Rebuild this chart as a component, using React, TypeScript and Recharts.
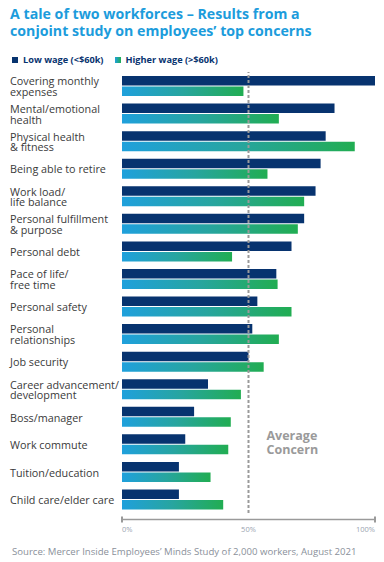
import React from "react";
import { BarChart, Bar, XAxis, YAxis, ReferenceLine } from "recharts";

// Data
const concerns = [
  "Covering monthly\nexpenses",
  "Mental/emotional\nhealth",
  "Physical health\n& fitness",
  "Being able to retire",
  "Work load/\nlife balance",
  "Personal fulfillment\n& purpose",
  "Personal debt",
  "Pace of life/\nfree time",
  "Personal safety",
  "Personal\nrelationships",
  "Job security",
  "Career advancement/\ndevelopment",
  "Boss/manager",
  "Work commute",
  "Tuition/education",
  "Child care/elder care",
];
const lowWage = [100, 84, 80.5, 78.5, 76.5, 72, 67, 61, 53.5, 51.5, 50, 34, 28.5, 25, 22.5, 22.5];
const higherWage = [48, 62, 92, 57.5, 72, 69.5, 43.5, 61.5, 67, 62, 56, 47, 43, 42, 35, 40];
const xTicks = [0, 50, 100];
const averageConcern = 50;

const data = concerns.map((name, i) => ({
  name,
  low: lowWage[i],
  high: higherWage[i],
}));

const FONT = "'Open Sans', 'Noto Sans', sans-serif";
const NAVY = "#07336f";
const BLUE = "#1fa0dc";
const GREEN = "#21ad52";
const GRAY = "#9a9a9a";

const CategoryTick = ({ y, payload }: any) => {
  const lines = String(payload.value).split("\n");
  const lh = 10.8;
  const startY = y - ((lines.length - 1) * lh) / 2;
  return (
    <text x={10} y={startY} fill="#3a3a3a" fontSize={10.8} fontFamily={FONT} dominantBaseline="central">
      {lines.map((l, i) => (
        <tspan key={i} x={10} y={startY + i * lh}>
          {l}
        </tspan>
      ))}
    </text>
  );
};

const PercentTick = ({ x, y, payload, index }: any) => {
  const anchor = index === 0 ? "start" : index === xTicks.length - 1 ? "end" : "middle";
  const isEnd = index === 0 || index === xTicks.length - 1;
  return (
    <g>
      {isEnd && <line x1={x} x2={x} y1={y + 3.5} y2={y + 9.5} stroke={GRAY} strokeWidth={2} />}
      <text x={x} y={y + 19} textAnchor={anchor} fill="#9aa4b0" fontSize={7.5} fontFamily={FONT}>
        {payload.value}%
      </text>
    </g>
  );
};

const AverageLabel = ({ viewBox }: any) => {
  const x = viewBox.x + 18;
  const y = viewBox.y + 368;
  return (
    <text x={x} y={y} fill={GRAY} fontSize={12.5} fontWeight={700} fontFamily={FONT}>
      <tspan x={x} y={y}>Average</tspan>
      <tspan x={x} y={y + 14}>Concern</tspan>
    </text>
  );
};

const LegendItem = ({ swatch, label }: { swatch: string; label: string }) => (
  <div style={{ display: "flex", alignItems: "center", marginRight: 11 }}>
    <div style={{ width: 6, height: 6, background: swatch, marginRight: 5 }} />
    <span style={{ fontSize: 9.2, fontWeight: 700, color: NAVY }}>{label}</span>
  </div>
);

const App = () => {
  return (
    <div style={{ position: "absolute", left: 0, top: 0, width: 384, height: 562, background: "#fff", fontFamily: FONT }}>
      {/* Title */}
      <div style={{ position: "absolute", left: 10, top: 5, fontSize: 14.2, fontWeight: 700, color: "#1c9cdc", lineHeight: "17px" }}>
        A tale of two workforces – Results from a
        <br />
        conjoint study on employees’ top concerns
      </div>

      {/* Legend */}
      <div style={{ position: "absolute", left: 12, top: 53, display: "flex" }}>
        <LegendItem swatch={NAVY} label="Low wage (<$60k)" />
        <LegendItem swatch={`linear-gradient(90deg, ${BLUE}, ${GREEN})`} label="Higher wage (>$60k)" />
      </div>

      {/* Chart */}
      <div style={{ position: "absolute", left: 0, top: 0 }}>
        <BarChart
          width={384}
          height={562}
          data={data}
          layout="vertical"
          margin={{ top: 72, right: 9, bottom: 29, left: 10 }}
          barSize={9.5}
          barGap={1}
        >
          <defs>
            <linearGradient id="hiGrad" x1="0" y1="0" x2="1" y2="0">
              <stop offset="0%" stopColor={BLUE} />
              <stop offset="50%" stopColor="#27a59f" />
              <stop offset="100%" stopColor={GREEN} />
            </linearGradient>
          </defs>
          <XAxis
            type="number"
            domain={[0, 100]}
            ticks={xTicks}
            interval={0}
            height={20}
            tickSize={0}
            tickMargin={0}
            tickLine={false}
            axisLine={{ stroke: GRAY, strokeWidth: 1.5, transform: "translate(0,6.5)" }}
            tick={<PercentTick />}
          />
          <YAxis
            type="category"
            dataKey="name"
            width={112}
            interval={0}
            axisLine={false}
            tickLine={false}
            tick={<CategoryTick />}
          />
          <Bar dataKey="low" fill={NAVY} isAnimationActive={false} />
          <Bar dataKey="high" fill="url(#hiGrad)" isAnimationActive={false} />
          <ReferenceLine
            x={averageConcern}
            stroke={GRAY}
            strokeWidth={2}
            strokeDasharray="3 2"
            label={<AverageLabel />}
          />
        </BarChart>
      </div>

      {/* Source */}
      <div style={{ position: "absolute", left: 12, top: 545, fontSize: 9.6, color: "#8a909a", whiteSpace: "nowrap" }}>
        Source: Mercer Inside Employees’ Minds Study of 2,000 workers, August 2021
      </div>
    </div>
  );
};

export default App;
